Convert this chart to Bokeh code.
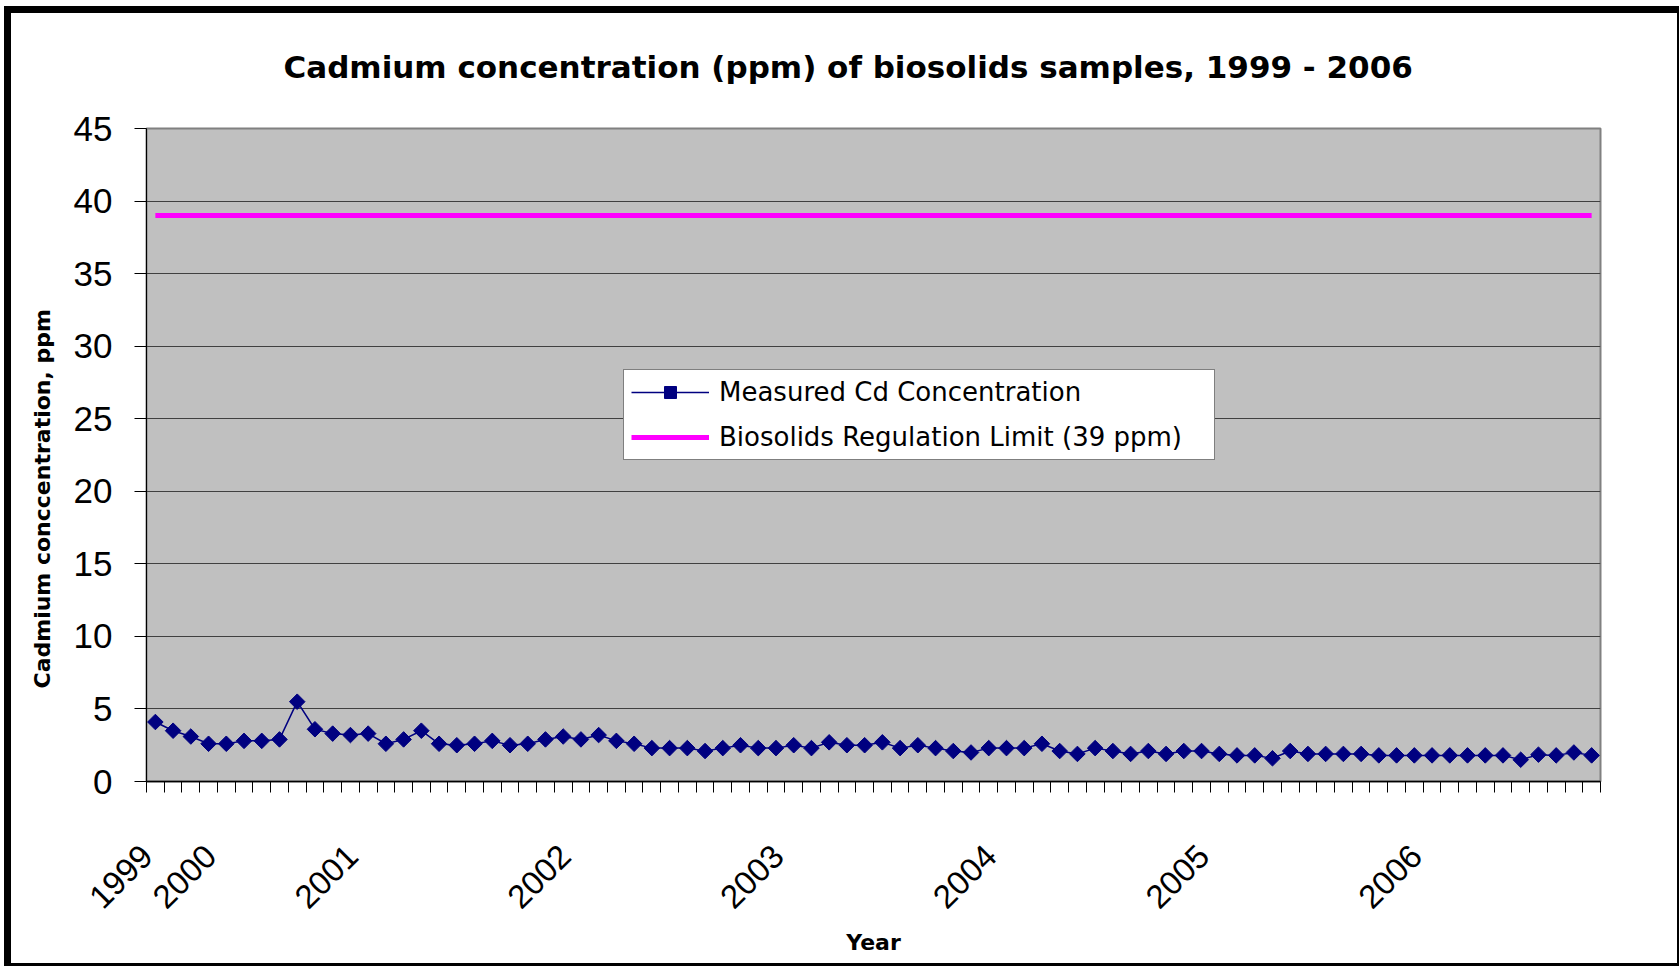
import math
from bokeh.plotting import figure
from bokeh.models import FixedTicker, Legend, LegendItem, Range1d, Title, LinearAxis
from bokeh.embed import file_html
from bokeh.resources import INLINE

# ---- data ----
cd_values = [
    4.1, 3.5, 3.1, 2.6, 2.6, 2.8, 2.8, 2.9, 5.5, 3.6,
    3.3, 3.2, 3.3, 2.6, 2.9, 3.5, 2.6, 2.5, 2.6, 2.8,
    2.5, 2.6, 2.9, 3.1, 2.9, 3.2, 2.8, 2.6, 2.3, 2.3,
    2.3, 2.1, 2.3, 2.5, 2.3, 2.3, 2.5, 2.3, 2.7, 2.5,
    2.5, 2.7, 2.3, 2.5, 2.3, 2.1, 2.0, 2.3, 2.3, 2.3,
    2.6, 2.1, 1.9, 2.3, 2.1, 1.9, 2.1, 1.9, 2.1, 2.1,
    1.9, 1.8, 1.8, 1.6, 2.1, 1.9, 1.9, 1.9, 1.9, 1.8,
    1.8, 1.8, 1.8, 1.8, 1.8, 1.8, 1.8, 1.5, 1.85, 1.8,
    2.0, 1.8,
]
limit_value = 39
year_tick_index = [0, 4, 12, 24, 36, 48, 60, 72]
year_tick_labels = ["1999", "2000", "2001", "2002", "2003", "2004", "2005", "2006"]
y_ticks = [0, 5, 10, 15, 20, 25, 30, 35, 40, 45]

sample_index = list(range(len(cd_values)))
limit_values = [limit_value] * len(cd_values)
n = len(cd_values)

LABEL_SHIFT = 0.9  # rotated year labels sit slightly left of their category
x_lo = -0.5

W, H = 1666, 950
p = figure(
    width=W, height=H, output_backend="svg", toolbar_location=None,
    x_range=Range1d(x_lo, n - 0.5), y_range=Range1d(0, 45),
    min_border_left=132, min_border_right=86, min_border_top=115, min_border_bottom=192,
    background_fill_color="#C0C0C0", border_fill_color="white",
)
p.styles = {
    "box-sizing": "content-box",
    "margin-left": "4px", "margin-top": "6px",
    "border-left": "7px solid black", "border-top": "7px solid black",
    "border-right": "2px solid black", "border-bottom": "3px solid black",
}
p.outline_line_color = "#808080"
p.outline_line_width = 2

# the real x (category) axis at the bottom
xa = p.below[0]
ya = p.left[0]

# empty spacer between frame and title (one hidden tick, empty label, no line)
spacer = LinearAxis(
    ticker=FixedTicker(ticks=[0]), major_label_overrides={0: ""},
    major_tick_in=0, major_tick_out=44,
    major_tick_line_color=None, minor_tick_line_color=None,
    axis_line_color=None, major_label_standoff=0,
    major_label_text_font_size="1px",
)
p.add_layout(spacer, "above")

# title
p.title.text = "Cadmium concentration (ppm) of biosolids samples, 1999 - 2006"
p.title.align = "left"
p.title.offset = 137
p.title.text_font = "DejaVu Sans"
p.title.text_font_style = "bold"
p.title.text_font_size = "31px"
p.title.text_color = "black"
p.title.standoff = 0

# grid
p.xgrid.visible = False
p.ygrid.ticker = FixedTicker(ticks=y_ticks)
p.ygrid.grid_line_color = "#404040"
p.ygrid.grid_line_width = 1

# y axis
ya.ticker = FixedTicker(ticks=y_ticks)
ya.axis_line_color = "black"
ya.major_tick_in = 0
ya.major_tick_out = 12
ya.major_tick_line_color = "black"
ya.minor_tick_line_color = None
ya.major_label_text_font = "Liberation Sans"
ya.major_label_text_font_size = "35px"
ya.major_label_text_color = "black"
ya.major_label_standoff = 22

ytitle = Title(
    text="Cadmium conccentration, ppm", align="left", offset=93,
    text_font="DejaVu Sans", text_font_style="bold", text_font_size="22px",
    text_color="black", standoff=32,
)
p.add_layout(ytitle, "left")

# x axis
label_pos = [max(i - LABEL_SHIFT, x_lo + 0.01) for i in year_tick_index]
xa.ticker = FixedTicker(ticks=label_pos,
                        minor_ticks=[i - 0.5 for i in range(n + 1)])
xa.major_label_overrides = {t: s for t, s in zip(label_pos, year_tick_labels)}
xa.major_label_orientation = math.pi / 4
xa.major_tick_line_color = None
xa.major_tick_in = 0
xa.major_tick_out = 0
xa.minor_tick_in = 0
xa.minor_tick_out = 11
xa.minor_tick_line_color = "black"
xa.axis_line_color = "black"
xa.axis_line_width = 1.5
xa.major_label_text_font = "Liberation Sans"
xa.major_label_text_font_size = "33px"
xa.major_label_text_color = "black"
xa.major_label_standoff = 58
xa.axis_label = "Year"
xa.axis_label_text_font = "DejaVu Sans"
xa.axis_label_text_font_style = "bold"
xa.axis_label_text_font_size = "22px"
xa.axis_label_text_color = "black"
xa.axis_label_standoff = 8

# series
limit_line = p.line(sample_index, limit_values, line_color="#FF00FF", line_width=5)
cd_line = p.line(sample_index, cd_values, line_color="#000080", line_width=1.5)
cd_marks = p.scatter(sample_index, cd_values, marker="square", angle=math.pi / 4,
                     size=11, fill_color="#000080", line_color="#000080")

legend = Legend(
    items=[
        LegendItem(label="Measured Cd Concentration", renderers=[cd_line, cd_marks]),
        LegendItem(label="Biosolids Regulation Limit (39 ppm)", renderers=[limit_line]),
    ],
    location=(477, 321),
    border_line_color="black", border_line_width=1,
    background_fill_color="white", background_fill_alpha=1.0,
    label_text_font="DejaVu Sans", label_text_font_size="26px", label_text_color="black",
    glyph_width=78, glyph_height=30, spacing=15, padding=7, margin=0,
    label_standoff=10, label_width=488,
)
p.add_layout(legend)

open("out.html", "w").write(file_html(p, INLINE))
